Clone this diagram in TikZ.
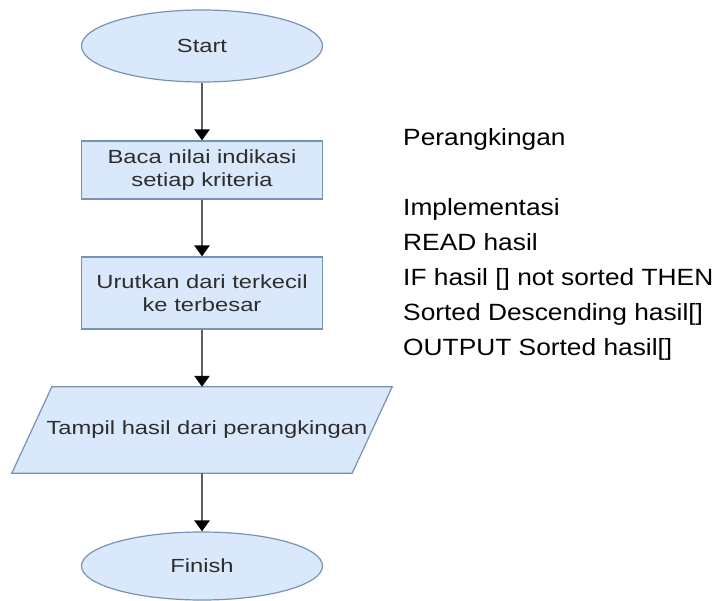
\documentclass[tikz,border=0pt]{standalone}
\usepackage{fontspec}
\setmainfont{Liberation Sans}
\newfontfamily\chartfont[FakeStretch=1.25]{Liberation Sans}
\newfontfamily\notefont[FakeStretch=1.12]{Liberation Sans}
\usepackage{tikz}
\usetikzlibrary{shapes.geometric, arrows.meta, positioning}
\definecolor{flowfill}{RGB}{218, 232, 252}
\definecolor{flowline}{RGB}{120, 146, 180}
\definecolor{arrowgray}{RGB}{95, 95, 95}
\definecolor{flowtext}{RGB}{45, 45, 45}

\begin{document}
\begin{tikzpicture}[x=1pt, y=-1pt,
    flowbox/.style={draw=flowline, fill=flowfill, line width=1.2pt, text=flowtext,
        font=\chartfont\fontsize{19}{23}\selectfont, align=center, inner sep=0pt},
    terminal/.style={flowbox, ellipse, minimum width=241pt},
    process/.style={flowbox, rectangle, minimum width=241pt},
    iobox/.style={rectangle, text=flowtext, font=\chartfont\fontsize{19}{23}\selectfont,
        inner sep=0pt, minimum width=340pt, minimum height=86pt},
    flowarrow/.style={arrowgray, line width=2.6pt,
        -{Triangle[color=black, width=15pt, length=11pt]}}]
    \useasboundingbox (0,0) rectangle (721,601);

    % Start / Finish
    \node[terminal, minimum height=72pt] at (202,46) (start) {Start};
    \node[terminal, minimum height=68pt] at (202,566) (finish) {Finish};

    % Steps
    \node[process, minimum height=58pt] at (202,170) (baca) {Baca nilai indikasi\\setiap kriteria};
    \node[process, minimum height=72pt] at (202,293) (urut) {Urutkan dari terkecil\\ke terbesar};

    % Output (parallelogram)
    \node[iobox] at (202,430) (tampil) {};
    \filldraw[draw=flowline, fill=flowfill, line width=1.2pt]
        ([xshift=20pt]tampil.north west) -- ([xshift=20pt]tampil.north east)
        -- ([xshift=-20pt]tampil.south east) -- ([xshift=-20pt]tampil.south west) -- cycle;
    \node[iobox] at (207,430) {Tampil hasil dari perangkingan};

    % Arrows
    \draw[flowarrow] (start) -- (baca);
    \draw[flowarrow] (baca) -- (urut);
    \draw[flowarrow] (urut) -- (tampil);
    \draw[flowarrow] (tampil) -- (finish);

    % Pseudocode
    \node[anchor=north west, align=left, inner sep=0pt,
        font=\notefont\fontsize{23.5}{35}\selectfont] at (403,128) (kode)
        {Perangkingan\\[35pt]Implementasi\\READ hasil\\IF hasil [] not sorted THEN\\Sorted Descending hasil[]\\OUTPUT Sorted hasil[]};

\end{tikzpicture}
\end{document}
